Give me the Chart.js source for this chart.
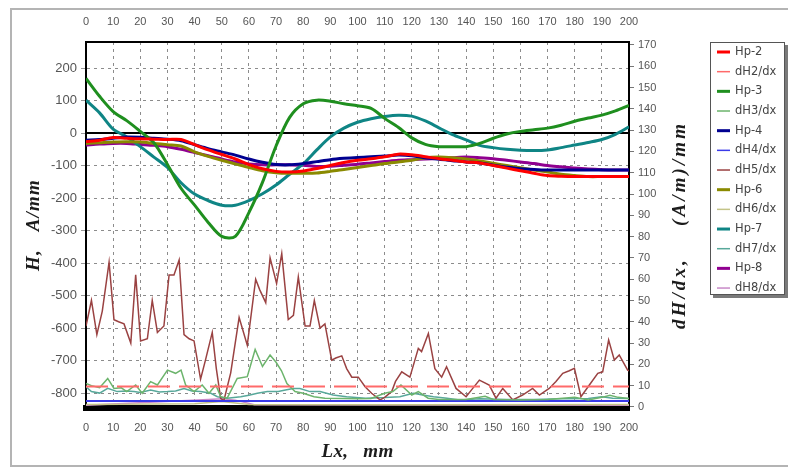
<!DOCTYPE html>
<html>
<head>
<meta charset="utf-8">
<title>Hp / dH/dx profile</title>
<script src="https://cdn.jsdelivr.net/npm/chart.js@4.4.1/dist/chart.umd.min.js"></script>
<style>
  html, body { margin: 0; padding: 0; background: #fff; }
  #wrap { position: relative; width: 788px; height: 468px; overflow: hidden; }
  #frame { position: absolute; left: 10px; top: 8px; width: 782px; height: 459px; border: 2px solid #b4b4b4; box-sizing: border-box; }
  canvas { position: absolute; left: 0; top: 0; }
</style>
</head>
<body>
<div id="wrap">
  <div id="frame"></div>
  <canvas id="chart" width="788" height="468"></canvas>
</div>
<script>
// ── Data ─────────────────────────────────────────────────────────
const X_TICKS = [0, 200, 10];           // min, max, step (mm)
const H_AXIS = [-846, 280, 100];        // left axis: min, max, step (A/mm)
const D_AXIS = [-0.5, 171.4, 10];       // right axis: min, max, step

const HP_X = [0,5,10,15,20,25,30,35,40,45,50,55,60,65,70,75,80,85,90,95,100,
  105,110,115,120,125,130,135,140,145,150,155,160,165,170,175,180,185,190,195,200];

const HP2 = [-27,-22,-14,-16,-18,-19,-20,-20,-36,-52,-66,-80,-97,-110,-118,-120,-117,-109,-100,-91,-84,
  -79,-73,-65,-67,-73,-79,-84,-89,-92,-100,-108,-116,-124,-131,-133,-134,-134,-134,-134,-134];
const HP3 = [168,113,66,38,5,-30,-97,-170,-222,-275,-318,-318,-245,-152,-40,48,90,101,98,90,84,
  76,45,18,-15,-35,-42,-42,-42,-32,-16,-3,5,10,15,24,36,46,55,68,85];
const HP4 = [-22,-20,-16,-12,-13,-16,-19,-24,-36,-48,-58,-68,-80,-90,-97,-98,-94,-88,-82,-78,-75,
  -73,-71,-68,-70,-76,-81,-85,-89,-92,-99,-105,-110,-112,-114,-114,-114,-114,-114,-114,-114];
const HP6 = [-32,-30,-28,-27,-28,-32,-36,-40,-58,-72,-84,-95,-106,-116,-122,-124,-124,-123,-118,-112,-106,
  -100,-94,-89,-84,-76,-74,-76,-80,-86,-93,-100,-107,-114,-120,-127,-131,-134,-134,-134,-134];
const HP7 = [101,62,12,-12,-42,-74,-106,-153,-188,-208,-222,-222,-208,-187,-160,-127,-95,-52,-12,15,33,
  44,51,55,52,37,16,-5,-21,-38,-45,-50,-53,-54,-52,-45,-37,-29,-20,-4,19];
const HP8 = [-37,-34,-32,-32,-35,-38,-42,-50,-60,-70,-80,-89,-95,-98,-98,-98,-99,-103,-102,-99,-96,
  -92,-88,-84,-82,-80,-78,-76,-74,-76,-79,-84,-89,-94,-100,-104,-108,-111,-113,-114,-114];

// derivative curves: [x mm, value]
const DH2 = [[0,9.6],[200,9.6]];
const DH4 = [[0,2.8],[200,2.8]];
const DH3 = [[0,11],[2,10],[5,9],[8,13.4],[10.3,8.7],[13,9],[15,7.2],[18.3,10.3],[20.7,6.4],[23.8,11.9],
  [26.3,10.3],[30,17.3],[33,15.8],[35,17.3],[36.7,10.3],[39.8,7.2],[42.8,10.3],[45.3,6.4],[47.8,10.3],
  [49.6,4.8],[52,4.1],[55.7,13.4],[59.4,14.2],[62.3,27],[65,19],[67.8,24.4],[70,21],[72,17],[74,11],
  [77,7.2],[80,6.4],[84,4.8],[88,4.1],[95,4],[100,3.8],[105,4],[110,6.4],[113,7.2],[116,10.3],[120,5.6],
  [122.4,7.2],[126,4.1],[130,3.5],[140,3.5],[147,5],[150,3.5],[160,3.3],[170,3.5],[180,4.5],[185,3.3],
  [190,4.5],[193,5.5],[196,4.5],[200,4]];
const DH5 = [[0,38],[2,50],[4,34],[6,45],[8.5,68],[10.3,41],[12,40],[14,39],[16.5,30],[18.3,62],
  [20.1,31],[22.6,32],[24.4,50],[26.3,35],[28.7,38],[30.6,62],[32.4,62],[34.3,69],[36.1,34],[38,32],
  [39.8,31],[42.2,13],[44,22],[46.5,35],[48,18],[49.6,4],[50.8,3],[53.3,16],[56.4,42],[59.4,29],
  [62.5,60],[64,55],[66.2,49],[67.8,70],[70.2,58],[72.1,72],[74.5,41],[76.4,43],[78.2,61],[80.7,38],
  [82.5,38],[84.1,50],[86.2,37],[88,39],[90.5,22],[92,23],[94.2,24],[96,18],[97.9,14],[100.3,14],
  [102.8,9.5],[105.2,6.4],[108.3,3.3],[110,4.5],[112.6,7.2],[114,12],[116.3,16.5],[119.3,14],[122.4,27.5],
  [123.6,26],[126.1,34.5],[128.5,18],[131,14],[132.8,18.9],[136.3,8.7],[140,4.8],[142,8],[144.9,12.6],
  [148.5,10.3],[151,4.1],[153.5,8.7],[157.2,3.3],[160.8,5.6],[164.5,8.7],[167,5.6],[170.6,8.7],
  [173.1,11.9],[175.6,15.8],[178,17],[179.9,18.1],[182.3,4.8],[185.4,10.3],[188.5,15.8],[190.3,16.5],
  [192.5,31.4],[194.6,22],[196.4,24.4],[199.5,17.3],[200,17]];
const DH6 = [[0,1.2],[40,1.5],[50,2.5],[60,1.2],[120,1.0],[200,1.2]];
const DH7 = [[0,9.5],[2,7.2],[5,6.5],[8,8.7],[11.5,7.2],[15,7.5],[17.7,7.2],[20,6.8],[23.8,8],[27,7],
  [30,7.2],[33,7.5],[36.1,8.7],[39,7.5],[42.2,7.2],[46,6.4],[48.4,4.8],[52,4.1],[57,4.8],[60,5.5],
  [63.1,6.4],[66.8,7.2],[70.8,7.2],[73,7.8],[76.3,8.7],[78.8,8.7],[82.5,7.2],[86.2,7.2],[91,5.6],[96,4.8],
  [103,4.1],[110,4.4],[115.6,4.8],[120.5,6.4],[124,5.6],[128,4.8],[133,4.1],[137.6,3.3],[145,3.8],
  [155,3.5],[165,3.5],[175,3.8],[185,4],[190,4.8],[194,4.1],[200,4]];
const DH8 = [[0,0.8],[45,3.5],[50,3.8],[55,3.2],[62,1],[200,0.8]];

// ── Look ─────────────────────────────────────────────────────────
const TICK_FONT = '"Liberation Sans", Arial, sans-serif';
const TITLE_FONT = 'bold italic 19px "Liberation Serif", "Times New Roman", serif';
const GRID = '#8c8c8c';

const hpLine = (label, ys, color) => ({
  label, data: HP_X.map((x, i) => ({ x, y: ys[i] })),
  borderColor: color, borderWidth: 3, tension: 0.3, yAxisID: 'y',
});
const dhLine = (label, pts, color, width = 1.5, dash = []) => ({
  label, data: pts.map(([x, y]) => ({ x, y })),
  borderColor: color, borderWidth: width, borderDash: dash, tension: 0, yAxisID: 'y2',
});

const datasets = [
  hpLine('Hp-2', HP2, '#ff0000'),
  dhLine('dH2/dx', DH2, '#ff6a6a', 2, [22, 9]),
  hpLine('Hp-3', HP3, '#1f8f1f'),
  dhLine('dH3/dx', DH3, '#6cb46c'),
  hpLine('Hp-4', HP4, '#000090'),
  dhLine('dH4/dx', DH4, '#3a3ae8', 2),
  dhLine('dH5/dx', DH5, '#9a4242'),
  hpLine('Hp-6', HP6, '#8a8a00'),
  dhLine('dH6/dx', DH6, '#c4c488'),
  hpLine('Hp-7', HP7, '#0f8585'),
  dhLine('dH7/dx', DH7, '#58a89a'),
  hpLine('Hp-8', HP8, '#900090'),
  dhLine('dH8/dx', DH8, '#c88ac8'),
];

// ── Extra drawing: zero line, titles, boxed legend ───────────────
const zeroLine = {
  id: 'zeroLine',
  beforeDatasetsDraw(chart) {
    const { ctx, chartArea: a, scales } = chart;
    const y = scales.y.getPixelForValue(0);
    ctx.save();
    ctx.strokeStyle = '#000';
    ctx.lineWidth = 2;
    ctx.beginPath();
    ctx.moveTo(a.left, y);
    ctx.lineTo(a.right, y);
    ctx.stroke();
    ctx.restore();
  }
};

function spacedText(ctx, text, x, y, rot, target) {
  ctx.save();
  ctx.translate(x, y);
  ctx.rotate(rot);
  ctx.font = TITLE_FONT;
  ctx.fillStyle = '#1c1c1c';
  ctx.textAlign = 'center';
  ctx.textBaseline = 'middle';
  const w = ctx.measureText(text).width;
  ctx.letterSpacing = Math.max(0, (target - w) / text.length) + 'px';
  ctx.fillText(text, 0, 0);
  ctx.restore();
}

const axisTitles = {
  id: 'axisTitles',
  afterDraw(chart) {
    const { ctx, chartArea: a } = chart;
    const midY = (a.top + a.bottom) / 2;
    spacedText(ctx, 'H,   A/mm', 34, midY, -Math.PI / 2, 92);
    spacedText(ctx, 'dH/dx,    (A/m)/mm', 680, midY, -Math.PI / 2, 208);
    spacedText(ctx, 'Lx,   mm', (a.left + a.right) / 2, 452, 0, 72);
  }
};

const boxLegend = {
  id: 'boxLegend',
  afterDraw(chart) {
    const { ctx } = chart;
    const x = 710, y = 42, w = 75, h = 253, row = 19.67;
    ctx.save();
    ctx.fillStyle = '#7a7a7a';
    ctx.fillRect(x + 3, y + 3, w, h);
    ctx.fillStyle = '#fff';
    ctx.fillRect(x, y, w, h);
    ctx.strokeStyle = '#555';
    ctx.lineWidth = 1;
    ctx.strokeRect(x + 0.5, y + 0.5, w - 1, h - 1);
    ctx.font = '11.5px "DejaVu Sans", sans-serif';
    ctx.textBaseline = 'middle';
    chart.data.datasets.forEach((d, i) => {
      const yy = y + 10 + i * row;
      ctx.strokeStyle = d.borderColor;
      ctx.lineWidth = d.borderWidth >= 3 ? 3 : 1.5;
      ctx.beginPath();
      ctx.moveTo(x + 7, yy);
      ctx.lineTo(x + 20, yy);
      ctx.stroke();
      ctx.fillStyle = '#444';
      ctx.fillText(d.label, x + 25, yy);
    });
    ctx.restore();
  }
};

// ── Chart ────────────────────────────────────────────────────────
const xTicks = {
  stepSize: X_TICKS[2], autoSkip: false, maxRotation: 0, padding: 13,
  color: '#555', font: { family: TICK_FONT, size: 11 },
};

new Chart(document.getElementById('chart'), {
  type: 'line',
  data: { datasets },
  options: {
    responsive: false,
    animation: false,
    devicePixelRatio: 1,
    layout: { padding: 0 },
    elements: { point: { radius: 0 } },
    plugins: { legend: { display: false }, tooltip: { enabled: false } },
    scales: {
      x: {
        type: 'linear', position: 'bottom', min: X_TICKS[0], max: X_TICKS[1],
        ticks: xTicks,
        grid: { color: GRID, lineWidth: 1, drawTicks: false },
        border: { display: true, color: '#000', width: 6, dash: [3, 4] },
        afterFit: s => { s.height = 60; },
      },
      x2: {
        type: 'linear', position: 'top', min: X_TICKS[0], max: X_TICKS[1],
        ticks: xTicks,
        grid: { drawOnChartArea: false, drawTicks: false },
        border: { display: true, color: '#000', width: 2 },
        afterFit: s => { s.height = 42; },
      },
      y: {
        type: 'linear', position: 'left', min: H_AXIS[0], max: H_AXIS[1],
        ticks: { stepSize: H_AXIS[2], includeBounds: false, padding: 4, color: '#555',
          font: { family: TICK_FONT, size: 13 } },
        grid: { color: c => (c.tick && c.tick.value === 0 ? 'rgba(0,0,0,0)' : GRID),
          tickColor: '#999', tickLength: 5, lineWidth: 1 },
        border: { display: true, color: '#000', width: 2, dash: [3, 4] },
        afterFit: s => { s.width = 86; },
      },
      y2: {
        type: 'linear', position: 'right', min: D_AXIS[0], max: D_AXIS[1],
        ticks: { stepSize: D_AXIS[2], includeBounds: false, padding: 4, color: '#555',
          font: { family: TICK_FONT, size: 11 } },
        grid: { drawOnChartArea: false, tickColor: '#777', tickLength: 5 },
        border: { display: true, color: '#000', width: 2 },
        afterFit: s => { s.width = 159; },
      },
    },
  },
  plugins: [zeroLine, axisTitles, boxLegend],
});
</script>
</body>
</html>
